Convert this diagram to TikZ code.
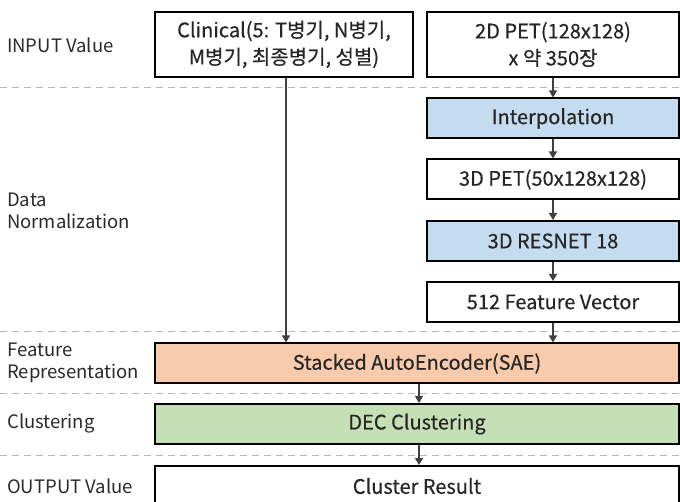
\documentclass[tikz,border=0pt]{standalone}
\usepackage{fontspec}
\setmainfont{Noto Sans CJK KR}
\newfontfamily\boxfont{Noto Sans CJK KR}[FakeBold=0.4]
\usetikzlibrary{arrows.meta}
\definecolor{boxblue}{HTML}{C5DCF0}
\definecolor{boxorange}{HTML}{F8CBAD}
\definecolor{boxgreen}{HTML}{C5E0B4}
\definecolor{arrowgray}{HTML}{404040}
\definecolor{dashgray}{HTML}{B8B8B8}
\definecolor{labelgray}{HTML}{2A2A2A}
\tikzset{
  stagebox/.style={draw=black, line width=2pt, rectangle, inner sep=0pt, align=center,
    font=\boxfont\fontsize{20}{27}\selectfont, text=black!85},
  flowarrow/.style={draw=arrowgray, line width=1.3pt, -{Triangle[length=7pt,width=8pt]}},
  sepline/.style={draw=dashgray, line width=1pt, dash pattern=on 7pt off 5pt},
  stagelabel/.style={anchor=west, align=left, inner sep=0pt, text=labelgray,
    font=\fontsize{18.5}{22}\selectfont},
}
\begin{document}
\begin{tikzpicture}[x=1pt, y=-1pt]
\useasboundingbox (0,0) rectangle (680,502);
\clip (0,0) rectangle (680,502);
\fill[white] (0,0) rectangle (680,502);
% separators
\draw[sepline] (0,88) -- (680,88);
\draw[sepline] (0,332) -- (680,332);
\draw[sepline] (0,394) -- (680,394);
\draw[sepline] (0,455) -- (680,455);
% left labels
\node[stagelabel] (l1) at (7,45) {INPUT Value};
\node[stagelabel] (l2) at (7,211) {Data\\Normalization};
\node[stagelabel] (l3) at (7,363) {Feature\\Representation};
\node[stagelabel] (l4) at (7,423) {Clustering};
\node[stagelabel] (l5) at (7,486) {OUTPUT Value};
% boxes
\node[stagebox, fill=white, minimum width=258pt, minimum height=65pt] (clin) at (284,44.5)
  {Clinical(5: T병기, N병기,\\M병기, 최종병기, 성별)};
\node[stagebox, fill=white, minimum width=252pt, minimum height=65pt] (pet2d) at (553,44.5)
  {2D PET(128x128)\\x 약 350장};
\node[stagebox, fill=boxblue, minimum width=252pt, minimum height=40pt] (interp) at (553,118.5)
  {Interpolation};
\node[stagebox, fill=white, minimum width=252pt, minimum height=40pt] (pet3d) at (553,179.5)
  {3D PET(50x128x128)};
\node[stagebox, fill=boxblue, minimum width=252pt, minimum height=40pt] (resnet) at (553,241)
  {3D RESNET 18};
\node[stagebox, fill=white, minimum width=252pt, minimum height=40pt] (feat) at (553,302)
  {512 Feature Vector};
\node[stagebox, fill=boxorange, minimum width=524pt, minimum height=40pt] (sae) at (417,363.5)
  {Stacked AutoEncoder(SAE)};
\node[stagebox, fill=boxgreen, minimum width=524pt, minimum height=40pt] (dec) at (417,424)
  {DEC Clustering};
\node[stagebox, fill=white, minimum width=524pt, minimum height=60pt] (res) at (417,496)
  {};
\node[font=\boxfont\fontsize{20}{24}\selectfont, text=black!85, inner sep=0pt] (restext) at (417,486) {Cluster Result};
% arrows
\draw[flowarrow] (clin.south -| 286,0) -- (sae.north -| 286,0);
\draw[flowarrow] (pet2d) ++(0,33.5) -- (interp.north);
\draw[flowarrow] (interp.south) -- (pet3d.north);
\draw[flowarrow] (pet3d.south) -- (resnet.north);
\draw[flowarrow] (resnet.south) -- (feat.north);
\draw[flowarrow] (feat.south) -- (sae.north -| feat.south);
\draw[flowarrow] (sae.south -| 419,0) -- (dec.north -| 419,0);
\draw[flowarrow] (dec.south -| 419,0) -- (res.north -| 419,0);
\end{tikzpicture}
\end{document}
